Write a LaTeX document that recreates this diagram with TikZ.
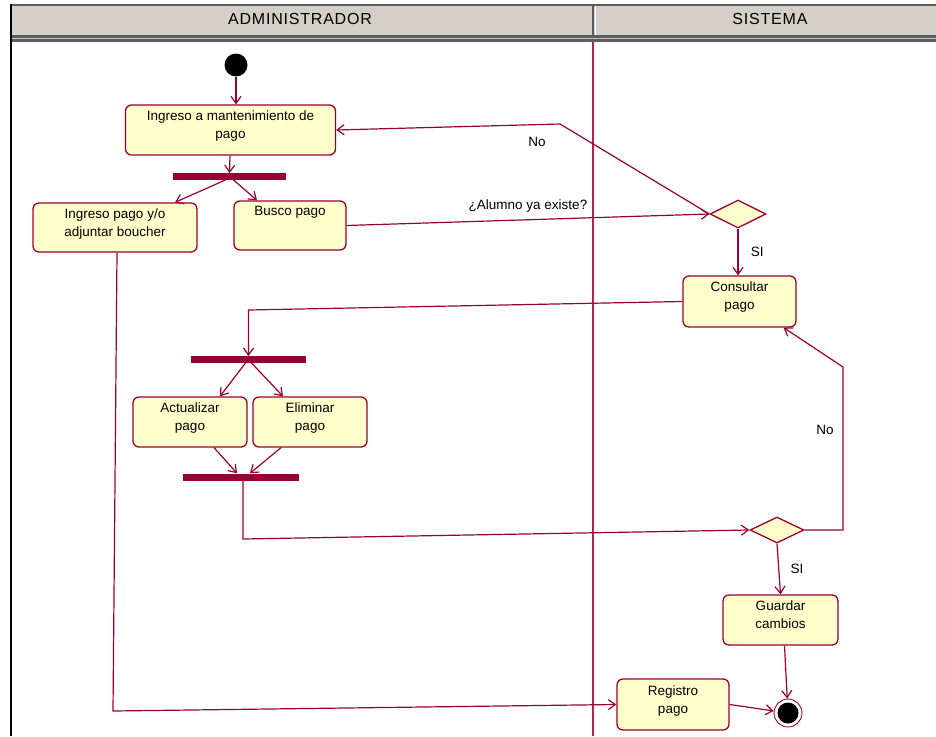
\documentclass[tikz,border=0pt]{standalone}
\usepackage{fontspec}
\setmainfont{Liberation Sans}
\newfontfamily\headfont[LetterSpace=5]{Liberation Sans}
\usetikzlibrary{
  arrows.meta,
  calc,
  positioning,
  shapes.geometric
}
\definecolor{roseLine}{HTML}{990033}
\definecolor{actFill}{HTML}{FFFFCC}
\definecolor{headGray}{HTML}{D4D0C8}
\definecolor{headDark}{HTML}{5C5C5C}
\newcommand{\sinkline}[1]{\rule[-#1]{0pt}{0pt}}

\tikzset{
  act/.style={rectangle, rounded corners=6pt, draw=roseLine, line width=1.3pt,
    fill=actFill, align=center, inner sep=2pt,
    font=\fontsize{13.5}{18}\selectfont},
  bar/.style={rectangle, fill=roseLine, inner sep=0pt, minimum height=6.5pt},
  choice/.style={diamond, draw=roseLine, line width=1.3pt, fill=actFill,
    inner sep=0pt, minimum width=56pt, minimum height=28pt},
  flow/.style={draw=roseLine, line width=1.2pt,
    -{Straight Barb[length=7pt,width=10pt]}},
  guard/.style={font=\fontsize{13.5}{16}\selectfont, text=black}
}

\begin{document}
\begin{tikzpicture}[x=1pt, y=1pt]
  \useasboundingbox (0,0) rectangle (936,-736);

  %% --- Swimlane frame ---
  \fill[headGray] (10,-5) rectangle (936,-36);
  \fill[headDark] (10,-35) rectangle (936,-42);
  \draw[gray!45, line width=1pt] (10,-38.5) -- (936,-38.5);
  \draw[headDark, line width=2pt] (10,-5) -- (936,-5);
  \draw[black, line width=2pt] (11,-4) -- (11,-736);
  \draw[headDark, line width=2pt] (593,-5) -- (593,-36);
  \draw[white, line width=1pt] (595.5,-6) -- (595.5,-35);
  \draw[roseLine!85, line width=1.3pt] (593,-42) -- (593,-736);

  \node[font=\headfont\fontsize{16}{18}\selectfont] (admin) at (300,-19) {ADMINISTRADOR};
  \node[font=\headfont\fontsize{16}{18}\selectfont] (sistema) at (770,-19) {SISTEMA};

  %% --- Start and first actions ---
  \node[circle, fill=black, minimum size=23pt, inner sep=0pt] (start) at (236,-65) {};
  \node[act, minimum width=210pt, minimum height=50pt] (ingreso) at (230.5,-130)
    {Ingreso a mantenimiento de\\pago\sinkline{10pt}};
  \node[bar, minimum width=113pt] (forkA) at (229.5,-176.5) {};
  \node[act, minimum width=164pt, minimum height=49pt] (boucher) at (115,-227.5)
    {Ingreso pago y/o\\adjuntar boucher\sinkline{10pt}};
  \node[act, minimum width=112pt, minimum height=49pt] (busco) at (290,-225.5)
    {Busco pago\sinkline{30pt}};

  %% --- Sistema: check and query ---
  \node[choice] (existe) at (738,-214) {};
  \node[act, minimum width=113pt, minimum height=51pt] (consultar) at (739.5,-301.5)
    {Consultar\\pago\sinkline{12pt}};

  %% --- Update / delete branch ---
  \node[bar, minimum width=115pt] (forkB) at (248.5,-359.5) {};
  \node[act, minimum width=114pt, minimum height=50pt] (actualizar) at (190,-422)
    {Actualizar\\pago\sinkline{10pt}};
  \node[act, minimum width=114pt, minimum height=50pt] (eliminar) at (310,-422)
    {Eliminar\\pago\sinkline{10pt}};
  \node[bar, minimum width=116pt, minimum height=7pt] (joinB) at (241,-477) {};

  %% --- Save and finish ---
  \node[choice, minimum width=54pt, minimum height=26pt] (cambios) at (777,-530) {};
  \node[act, minimum width=115pt, minimum height=50pt] (guardar) at (780.5,-620)
    {Guardar\\cambios\sinkline{10pt}};
  \node[act, minimum width=112pt, minimum height=51pt] (registro) at (673,-704.5)
    {Registro\\pago\sinkline{10pt}};
  \node[circle, draw=roseLine, line width=0.9pt, minimum size=28pt, inner sep=0pt]
    (fin) at (788,-713) {};
  \fill[black] (fin) circle [radius=10.5];

  %% --- Bend points ---
  \coordinate (noTurn) at (560,-124);
  \coordinate (bendB) at (248.5,-310);
  \coordinate (bendC) at (243,-539);
  \coordinate (cornerD) at (843,-530);
  \coordinate (cornerE) at (843,-367);
  \coordinate (bendF) at (113,-711);

  %% --- Flows ---
  \draw[flow] (start) -- (start |- ingreso.north);
  \draw[flow] (ingreso) -- (forkA);
  \draw[flow] ($(forkA.south)+(-4,0)$) -- ($(boucher.north)+(60,0)$);
  \draw[flow] ($(forkA.south)+(4,0)$) -- ($(busco.north)+(-33,0)$);
  \draw[flow] (busco.east) -- node[guard, above=4pt] {¿Alumno ya existe?} (existe.west);
  \draw[flow] (existe.west) -- (noTurn) -- (ingreso.east);
  \node[guard] (noA) at (537,-142) {No};
  \draw[flow] (existe.south) -- node[guard, right=9pt] {SI} (existe.south |- consultar.north);

  \draw[flow] (consultar.west) -- (bendB) -- (forkB.north);
  \draw[flow] ($(forkB.south)+(-3,0)$) -- ($(actualizar.north)+(30,0)$);
  \draw[flow] ($(forkB.south)+(3,0)$) -- ($(eliminar.north)+(-27,0)$);
  \draw[flow] ($(actualizar.south)+(24,0)$) -- ($(joinB.north)+(-4,0)$);
  \draw[flow] ($(eliminar.south)+(-29,0)$) -- ($(joinB.north)+(9,0)$);
  \draw[flow] ($(joinB.south)+(2,0)$) -- (bendC) -- (cambios.west);

  \draw[flow] (cambios.east) -- (cornerD) -- (cornerE) -- ($(consultar.south east)+(-13,0)$);
  \node[guard] (noB) at (825,-430) {No};
  \draw[flow] (cambios.south) -- node[guard, right=8pt] {SI} (guardar.north);
  \draw[flow] ($(guardar.south)+(4,0)$) -- (fin);

  \draw[flow] ($(boucher.south)+(2,0)$) -- (bendF) -- (registro.west);
  \draw[flow] (registro.east) -- (fin);
\end{tikzpicture}
\end{document}
